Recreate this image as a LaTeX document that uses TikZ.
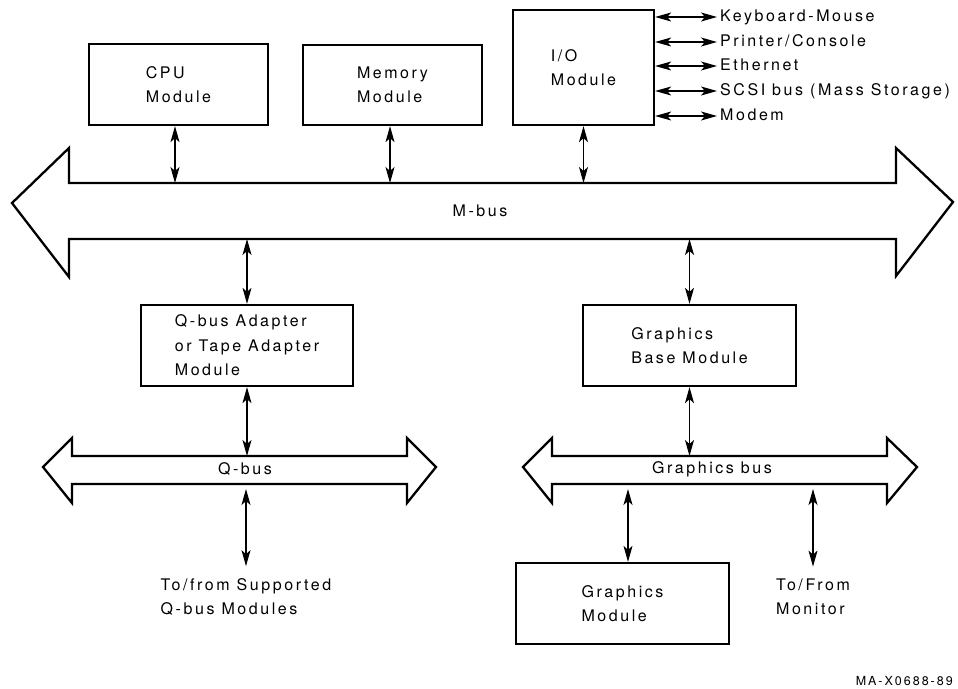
\documentclass[tikz,border=0pt]{standalone}
\usepackage{fontspec}
\setmainfont{TeX Gyre Heros}[LetterSpace=16]
\usetikzlibrary{arrows.meta}

\begin{document}
\begin{tikzpicture}[x=1pt, y=-1pt,
    modbox/.style={draw=black, line width=2.3pt, align=left, inner sep=0pt, font=\fontsize{16}{24.5}\selectfont},
    busline/.style={draw=black, line width=2.3pt, line join=miter},
    buslabel/.style={inner sep=0pt, font=\fontsize{16}{24.5}\selectfont},
    portlabel/.style={anchor=west, inner xsep=3pt, inner ysep=0pt, text height=11.5pt, text depth=3pt, font=\fontsize{16}{24.5}\selectfont},
    farlabel/.style={align=left, inner xsep=0pt, inner ysep=12pt, font=\fontsize{16}{24.5}\selectfont},
    link/.style={{Stealth[length=16pt,width=9pt,inset=4pt]}-{Stealth[length=16pt,width=9pt,inset=4pt]}, line width=1.1pt},
  ]
  \useasboundingbox (0,0) rectangle (958,688);

  % modules on the M-bus
  \node[modbox, minimum width=179pt, minimum height=81pt]  (cpumodule)    at (178.5,84.5)  {CPU\\Module};
  \node[modbox, minimum width=179pt, minimum height=80pt]  (memmodule)    at (392.5,85)    {Memory\\Module};
  \node[modbox, minimum width=141pt, minimum height=115pt] (iomodule)     at (583.5,67.5)  {I/O\\Module};
  \node[modbox, minimum width=212pt, minimum height=81pt]  (qbusadapter)  at (247,345.5)   {Q-bus Adapter\\or Tape Adapter\\Module};
  \node[modbox, minimum width=213pt, minimum height=81pt]  (gfxbase)      at (689.5,345.5) {Graphics\\Base Module};
  \node[modbox, minimum width=213pt, minimum height=81pt]  (gfxmodule)    at (622.5,603.5) {Graphics\\Module};

  % I/O ports
  \node[portlabel] (kbdmouse)  at (717,17)  {Keyboard-Mouse};
  \node[portlabel] (printer)   at (717,42)  {Printer/Console};
  \node[portlabel] (ethernet)  at (717,66)  {Ethernet};
  \node[portlabel] (scsibus)   at (717,91)  {SCSI bus (Mass Storage)};
  \node[portlabel] (modem)     at (717,116) {Modem};

  % M-bus
  \draw[busline] (69,183) -- (896,183) -- (896,148) -- (953,202) -- (896,276) -- (896,239)
    -- (69,239) -- (69,277) -- (12,203) -- (69,148) -- cycle;
  \coordinate (mbustop) at (0,183);
  \coordinate (mbusbot) at (0,239);
  \node[buslabel] (mbuslabel) at (480,211) {M-bus};

  % Q-bus
  \draw[busline] (72,456) -- (407,456) -- (407,438) -- (436,467) -- (407,503) -- (407,484)
    -- (72,484) -- (72,503) -- (43,467) -- (72,438) -- cycle;
  \coordinate (qbustop) at (0,456);
  \coordinate (qbuslow) at (0,489);
  \node[buslabel] (qbuslabel) at (245,469) {Q-bus};

  % Graphics bus
  \draw[busline] (552,456) -- (887,456) -- (887,438) -- (917,467) -- (887,503) -- (887,484)
    -- (552,484) -- (552,503) -- (523,467) -- (552,438) -- cycle;
  \coordinate (gbustop) at (0,456);
  \coordinate (gbuslow) at (0,489);
  \node[buslabel] (gbuslabel) at (712,469) {Graphics bus};

  \node[farlabel] (qbusmodules) at (246,597) {To/from Supported\\Q-bus Modules};
  \node[farlabel] (monitor)     at (813,597) {To/From\\Monitor};

  \node[anchor=east, inner sep=0pt, font=\fontsize{12.5}{14}\selectfont] (figid) at (953,681) {MA-X0688-89};

  \draw[link] ([xshift=-3.5pt]cpumodule.south) -- ([xshift=-3.5pt]cpumodule.south |- mbustop);
  \draw[link] ([xshift=-2.5pt]memmodule.south) -- ([xshift=-2.5pt]memmodule.south |- mbustop);
  \draw[link] (iomodule.south) -- (iomodule.south |- mbustop);

  \draw[link] (iomodule.east |- kbdmouse.west) -- (kbdmouse.west);
  \draw[link] (iomodule.east |- printer.west)  -- (printer.west);
  \draw[link] (iomodule.east |- ethernet.west) -- (ethernet.west);
  \draw[link] (iomodule.east |- scsibus.west)  -- (scsibus.west);
  \draw[link] (iomodule.east |- modem.west)    -- (modem.west);

  \draw[link] (qbusadapter.north |- mbusbot) -- (qbusadapter.north);
  \draw[link] (gfxbase.north |- mbusbot) -- (gfxbase.north);
  \draw[link] (qbusadapter.south) -- (qbusadapter.south |- qbustop);
  \draw[link] (gfxbase.south) -- (gfxbase.south |- gbustop);

  \draw[link] (qbusmodules.north |- qbuslow) -- (qbusmodules.north);
  \draw[link] ([xshift=5.5pt]gfxmodule.north |- gbuslow) -- ([xshift=5.5pt]gfxmodule.north);
  \draw[link] (monitor.north |- gbuslow) -- (monitor.north);
\end{tikzpicture}
\end{document}
